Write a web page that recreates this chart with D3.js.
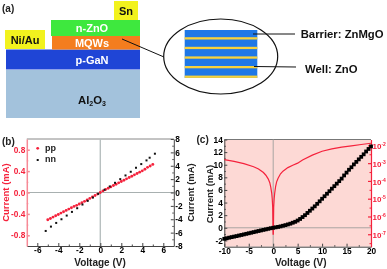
<!DOCTYPE html>
<html>
<head>
<meta charset="utf-8">
<script src="https://cdn.jsdelivr.net/npm/d3@7"></script>
<style>
  html, body { margin: 0; padding: 0; background: #fff; }
  svg { display: block; filter: blur(0.3px); }
  text { font-family: "Liberation Sans", Arial, sans-serif; font-weight: bold; }
  .tick text { font-size: 8.3px; }
</style>
</head>
<body>
<div id="chart"></div>
<script>
// panel (a) layer names
var ovalLabels = ["Barrier: ZnMgO", "Well: ZnO"];
var wellCount = [0, 1, 2, 3, 4];

// panel (b) values
var ppVoltage = [-5, -4.75, -4.5, -4.25, -4, -3.75, -3.5, -3.25, -3, -2.75, -2.5, -2.25, -2, -1.75, -1.5, -1.25, -1, -0.75, -0.5, -0.25, 0, 0.25, 0.5, 0.75, 1, 1.25, 1.5, 1.75, 2, 2.25, 2.5, 2.75, 3, 3.25, 3.5, 3.75, 4, 4.25, 4.5, 4.75, 5];
var ppCurrent = [-0.51, -0.485, -0.46, -0.435, -0.41, -0.385, -0.36, -0.335, -0.31, -0.285, -0.26, -0.24, -0.215, -0.19, -0.165, -0.14, -0.11, -0.085, -0.055, -0.03, 0, 0.03, 0.055, 0.08, 0.105, 0.13, 0.155, 0.18, 0.205, 0.23, 0.255, 0.28, 0.305, 0.33, 0.355, 0.38, 0.405, 0.435, 0.47, 0.495, 0.525];
var nnVoltage = [-5.2, -4.7, -4.2, -3.7, -3.2, -2.7, -2.2, -1.7, -1.2, -0.7, -0.2, 0.4, 0.9, 1.4, 1.9, 2.4, 2.9, 3.4, 3.9, 4.4, 4.7, 5.2];
var nnCurrent = [-5.75, -5.1, -4.55, -4.0, -3.45, -2.9, -2.35, -1.8, -1.25, -0.75, -0.2, 0.4, 0.9, 1.45, 2.0, 2.55, 3.1, 3.7, 4.25, 4.8, 5.2, 5.8];
var bXTicks = [-6, -4, -2, 0, 2, 4, 6];
var bXMinor = [-5, -3, -1, 1, 3, 5];
var bLeftTicks = [-0.8, -0.4, 0, 0.4, 0.8];
var bLeftMinor = [-0.6, -0.2, 0.2, 0.6];
var bRightTicks = [-8, -6, -4, -2, 0, 2, 4, 6, 8];
var bRightMinor = [-7, -5, -3, -1, 1, 3, 5, 7];

// panel (c) values
var cVoltage = [-10, -9.5, -9, -8.5, -8, -7.5, -7, -6.5, -6, -5.5, -5, -4.5, -4, -3.5, -3, -2.5, -2, -1.5, -1, -0.5, 0, 0.5, 1, 1.5, 2, 2.5, 3, 3.5, 4, 4.5, 5, 5.5, 6, 6.5, 7, 7.5, 8, 8.5, 9, 9.5, 10, 10.5, 11, 11.5, 12, 12.5, 13, 13.5, 14, 14.5, 15, 15.5, 16, 16.5, 17, 17.5, 18, 18.5, 19, 19.5, 20];
var cCurrent = [-1.75, -1.66, -1.57, -1.48, -1.4, -1.32, -1.23, -1.14, -1.05, -0.96, -0.87, -0.78, -0.69, -0.6, -0.51, -0.42, -0.33, -0.25, -0.16, -0.07, 0, 0.07, 0.14, 0.22, 0.32, 0.42, 0.53, 0.65, 0.8, 0.95, 1.15, 1.4, 1.7, 2.0, 2.35, 2.7, 3.05, 3.4, 3.8, 4.2, 4.6, 5.0, 5.4, 5.8, 6.2, 6.6, 7.0, 7.4, 7.8, 8.3, 8.75, 9.2, 9.6, 10.05, 10.45, 10.85, 11.25, 11.65, 12.1, 12.5, 12.9];
var logVoltage = [-10, -8, -6, -4, -3, -2, -1.5, -1, -0.7, -0.5, -0.3, -0.2, -0.1, -0.03, 0.03, 0.1, 0.2, 0.3, 0.5, 0.7, 1, 1.5, 2, 3, 4, 5, 6, 8, 10, 12, 14, 16, 18, 20];
var logCurrent = [-2.8, -2.9, -3.03, -3.2, -3.33, -3.53, -3.68, -3.9, -4.1, -4.35, -4.7, -5, -5.5, -7, -7, -5.5, -5, -4.7, -4.3, -4.05, -3.85, -3.6, -3.45, -3.25, -3.12, -3.0, -2.82, -2.55, -2.33, -2.2, -2.1, -2.03, -1.95, -1.88];
var cXTicks = [-10, -5, 0, 5, 10, 15, 20];
var cXMinor = [-7.5, -2.5, 2.5, 7.5, 12.5, 17.5];
var cLeftTicks = [-2, 0, 2, 4, 6, 8, 10, 12, 14];
var cLeftMinor = [-1, 1, 3, 5, 7, 9, 11, 13];
var cRightTicks = [-7, -6, -5, -4, -3, -2];
var cRightMinor = [-7.5, -6.5, -5.5, -4.5, -3.5, -2.5];

var red = "#f5223c";
var svg = d3.select("#chart").append("svg").attr("width", 387).attr("height", 269);

function label(g, x, y, str, size, fill, anchor) {
  return g.append("text").attr("x", x).attr("y", y).attr("font-size", size)
    .attr("fill", fill || "#111").attr("text-anchor", anchor || "middle").text(str);
}

// ticks point into the plot, labels sit right against the spine
function addAxis(g, axis, pos, values, minor, fmt, color, spineWidth) {
  var major = g.append("g").attr("transform", pos)
    .call(axis.tickValues(values).tickSizeInner(-3).tickSizeOuter(0).tickPadding(1.5).tickFormat(fmt));
  major.selectAll("path,line").attr("stroke", color).attr("stroke-width", spineWidth || 1);
  var small = g.append("g").attr("transform", pos)
    .call(axis.tickValues(minor).tickSizeInner(-1.5).tickSizeOuter(0).tickFormat(""));
  small.select(".domain").remove();
  small.selectAll("line").attr("stroke", color);
  return major;
}

function hyphen(f) {
  return function(d) { return d3.format(f)(d).replace("\u2212", "-"); };
}

// ---------- panel (a) ----------
var a = svg.append("g");
label(a, 2, 12, "(a)", 10, "#222", "start");
a.append("rect").attr("x", 6).attr("y", 70).attr("width", 134).attr("height", 48).attr("fill", "#a3c2dc");
a.append("rect").attr("x", 6).attr("y", 49.5).attr("width", 134).attr("height", 20).attr("fill", "#1f45d6");
a.append("rect").attr("x", 52).attr("y", 36).attr("width", 88).attr("height", 13.5).attr("fill", "#f47d1e");
a.append("rect").attr("x", 51).attr("y", 20).attr("width", 89).attr("height", 16).attr("fill", "#3ee83e");
a.append("rect").attr("x", 5).attr("y", 30).attr("width", 40).attr("height", 19).attr("fill", "#f2f21e");
a.append("rect").attr("x", 114).attr("y", 1).attr("width", 24).attr("height", 19).attr("fill", "#f2f21e");
label(a, 92, 32, "n-ZnO", 11, "#fff");
label(a, 92, 46.5, "MQWs", 11, "#fff");
label(a, 92, 64, "p-GaN", 11, "#fff");
label(a, 25, 44, "Ni/Au", 11, "#111");
label(a, 126, 15, "Sn", 11, "#111");
var al = label(a, 92, 104, "Al", 11.3, "#111");
al.append("tspan").attr("font-size", 7).attr("dy", 2).text("2");
al.append("tspan").attr("dy", -2).text("O");
al.append("tspan").attr("font-size", 7).attr("dy", 2).text("3");

a.append("line").attr("x1", 122).attr("y1", 39).attr("x2", 164).attr("y2", 57).attr("stroke", "#111").attr("stroke-width", 1);
a.append("ellipse").attr("cx", 220.7).attr("cy", 56.5).attr("rx", 57).attr("ry", 37.5)
  .attr("fill", "#fff").attr("stroke", "#111").attr("stroke-width", 1.2);
a.append("rect").attr("x", 184.7).attr("y", 30).attr("width", 72.6).attr("height", 48).attr("fill", "#1f78e6");
a.selectAll("rect.well").data(wellCount).enter().append("rect").attr("class", "well")
  .attr("x", 184.7).attr("width", 72.6).attr("height", 2.3)
  .attr("y", function(d) { return 37.2 + d * 9.6; })
  .attr("fill", "#f7d23c");
a.append("line").attr("x1", 253).attr("y1", 34).attr("x2", 295).attr("y2", 34).attr("stroke", "#111").attr("stroke-width", 1);
a.append("line").attr("x1", 254).attr("y1", 66.5).attr("x2", 296).attr("y2", 67).attr("stroke", "#111").attr("stroke-width", 1);
label(a, 300.7, 37.5, ovalLabels[0], 11.3, "#111", "start");
label(a, 305, 72.5, ovalLabels[1], 11.3, "#111", "start");

// ---------- panel (b) ----------
var b = svg.append("g");
var bx = d3.scaleLinear().domain([-7, 7]).range([26.8, 173.8]);
var byLeft = d3.scaleLinear().domain([-1, 1]).range([246, 139]);
var byRight = d3.scaleLinear().domain([-8, 8]).range([246, 139]);

label(b, 2, 144.5, "(b)", 10, "#222", "start");
b.append("line").attr("x1", 26.8).attr("x2", 173.8).attr("y1", 139).attr("y2", 139).attr("stroke", "#888").attr("stroke-width", 1);
b.append("line").attr("x1", bx(0)).attr("x2", bx(0)).attr("y1", 139).attr("y2", 246).attr("stroke", "#b8c0c0").attr("stroke-width", 1.4);
b.append("line").attr("x1", 26.8).attr("x2", 173.8).attr("y1", byLeft(0)).attr("y2", byLeft(0)).attr("stroke", "#a8b0b0").attr("stroke-width", 1.2);

addAxis(b, d3.axisBottom(bx), "translate(0,246)", bXTicks, bXMinor, hyphen("d"), "#444");
var bLeft = addAxis(b, d3.axisLeft(byLeft), "translate(26.8,0)", bLeftTicks, bLeftMinor, hyphen(".1f"), "#f78a96", 1.5);
bLeft.selectAll("text").attr("fill", red);
addAxis(b, d3.axisRight(byRight), "translate(173.8,0)", bRightTicks, bRightMinor, hyphen("d"), "#444");

b.selectAll("circle.pp").data(ppVoltage).enter().append("circle").attr("class", "pp")
  .attr("cx", function(d) { return bx(d); })
  .attr("cy", function(d, i) { return byLeft(ppCurrent[i]); })
  .attr("r", 1.45).attr("fill", red);
b.selectAll("rect.nn").data(nnVoltage).enter().append("rect").attr("class", "nn")
  .attr("x", function(d) { return bx(d) - 1; })
  .attr("y", function(d, i) { return byRight(nnCurrent[i]) - 1; })
  .attr("width", 2).attr("height", 2).attr("fill", "#111");

b.append("circle").attr("cx", 37.7).attr("cy", 148.3).attr("r", 1.4).attr("fill", red);
b.append("rect").attr("x", 36.7).attr("y", 159).attr("width", 2).attr("height", 2).attr("fill", "#111");
label(b, 45, 151, "pp", 9, "#222", "start");
label(b, 45, 162, "nn", 9, "#222", "start");
label(b, 100, 265.5, "Voltage (V)", 10, "#222");
label(b, 0, 0, "Current (mA)", 9.5, red).attr("transform", "translate(9,192.5) rotate(-90)");
label(b, 0, 0, "Current (mA)", 9.5, "#222").attr("transform", "translate(194,192.5) rotate(-90)");

// ---------- panel (c) ----------
var c = svg.append("g");
var cx = d3.scaleLinear().domain([-10, 20]).range([224.3, 371]);
var cy = d3.scaleLinear().domain([-3, 14]).range([246.7, 139.5]);
var cyLog = d3.scaleLinear().domain([-7.7, -1.67]).range([246.7, 139.5]);

label(c, 196.5, 143, "(c)", 10, "#222", "start");
c.append("rect").attr("x", 224.3).attr("y", 139.5).attr("width", 146.7).attr("height", 107.2).attr("fill", "#fdd9d5");
c.append("line").attr("x1", 224.3).attr("x2", 371).attr("y1", 139.5).attr("y2", 139.5).attr("stroke", "#777").attr("stroke-width", 1);
c.append("line").attr("x1", cx(0)).attr("x2", cx(0)).attr("y1", 139.5).attr("y2", 246.7).attr("stroke", "#a9a5a2").attr("stroke-width", 1);
c.append("line").attr("x1", 224.3).attr("x2", 371).attr("y1", cy(0)).attr("y2", cy(0)).attr("stroke", "#a9a5a2").attr("stroke-width", 1);

addAxis(c, d3.axisBottom(cx), "translate(0,246.7)", cXTicks, cXMinor, hyphen("d"), "#444");
addAxis(c, d3.axisLeft(cy), "translate(224.3,0)", cLeftTicks, cLeftMinor, hyphen("d"), "#444");
var cRight = addAxis(c, d3.axisRight(cyLog), "translate(371,0)", cRightTicks, cRightMinor, function() { return "10"; }, red, 1.2);
cRight.selectAll(".tick text").attr("fill", red).attr("dy", "0.4em").style("font-size", "8px")
  .append("tspan").attr("font-size", 5).attr("dy", "-0.6em").text(function(d) { return "-" + Math.abs(d); });

var curveLine = d3.line()
  .x(function(d) { return cx(d); })
  .y(function(d, i) { return cyLog(logCurrent[i]); });
c.append("path").datum(logVoltage).attr("d", curveLine).attr("fill", "none").attr("stroke", red).attr("stroke-width", 1.2);
c.selectAll("rect.iv").data(cVoltage).enter().append("rect").attr("class", "iv")
  .attr("x", function(d) { return cx(d) - 1.9; })
  .attr("y", function(d, i) { return cy(cCurrent[i]) - 1.9; })
  .attr("width", 3.8).attr("height", 3.8).attr("fill", "#000");

label(c, 300.8, 265.5, "Voltage (V)", 10, "#222");
label(c, 0, 0, "Current (mA)", 9.5, "#222").attr("transform", "translate(212.5,194) rotate(-90)");
</script>
</body>
</html>
